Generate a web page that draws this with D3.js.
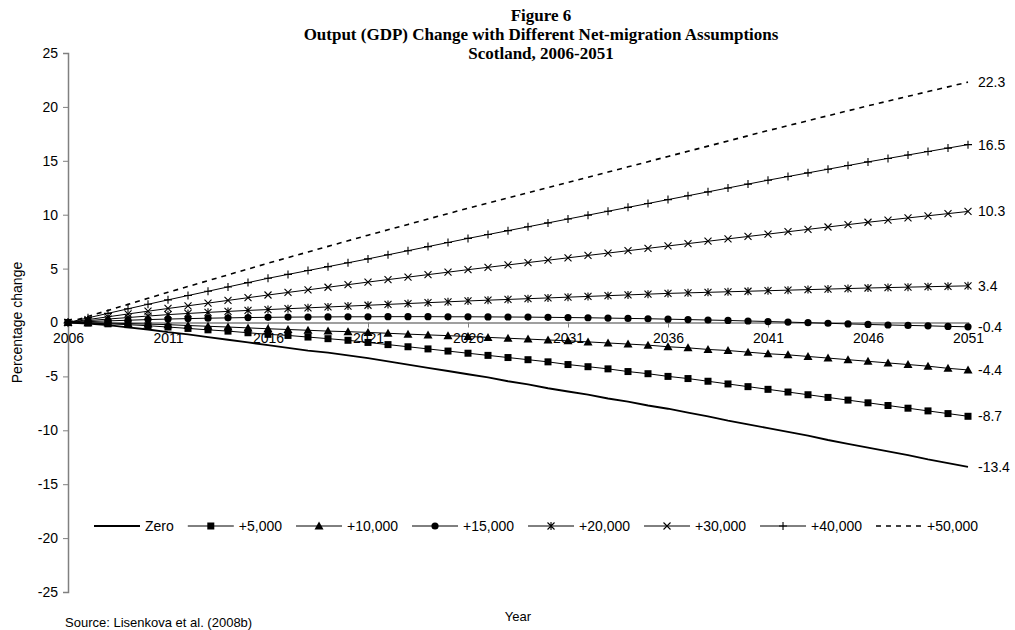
<!DOCTYPE html>
<html>
<head>
<meta charset="utf-8">
<script src="https://cdn.jsdelivr.net/npm/d3@7"></script>
<style>
  html, body { margin: 0; padding: 0; background: #fff; }
  svg { display: block; }
  text { font-family: Arial, "Liberation Sans", sans-serif; fill: #000; }
  .title { font-family: "Times New Roman", "Liberation Serif", serif; font-weight: bold; font-size: 17px; }
</style>
</head>
<body>
<svg id="chart" width="1015" height="630"></svg>
<script>
// Years 2006-2051
const years = d3.range(2006, 2052);

// Percentage change in output (GDP) under each net-migration assumption
const zero = [0, -0.1, -0.25, -0.45, -0.65, -0.9, -1.1, -1.35, -1.6, -1.85, -2.1, -2.35, -2.6, -2.8, -3.05, -3.3,
  -3.6, -3.9, -4.2, -4.5, -4.8, -5.1, -5.45, -5.75, -6.1, -6.4, -6.7, -7.05, -7.35, -7.7, -8.0,
  -8.35, -8.7, -9.1, -9.45, -9.8, -10.15, -10.5, -10.9, -11.25, -11.6, -11.95, -12.3, -12.7, -13.05, -13.4];
const plus5000 = [0, -0.05, -0.12, -0.2, -0.3, -0.42, -0.55, -0.68, -0.8, -0.95, -1.1, -1.2, -1.35, -1.5, -1.65, -1.85,
  -2.05, -2.25, -2.45, -2.65, -2.85, -3.05, -3.25, -3.45, -3.65, -3.9, -4.1, -4.3, -4.55, -4.75, -5.0,
  -5.2, -5.45, -5.7, -5.95, -6.2, -6.45, -6.7, -6.95, -7.2, -7.45, -7.7, -7.95, -8.2, -8.45, -8.7];
const plus10000 = [0, -0.02, -0.05, -0.1, -0.15, -0.2, -0.28, -0.35, -0.42, -0.5, -0.58, -0.65, -0.72, -0.8, -0.85, -0.92,
  -1.0, -1.08, -1.15, -1.22, -1.3, -1.38, -1.46, -1.54, -1.62, -1.7, -1.8, -1.9, -2.0, -2.1, -2.25,
  -2.35, -2.5, -2.6, -2.75, -2.9, -3.0, -3.15, -3.3, -3.45, -3.6, -3.75, -3.9, -4.05, -4.25, -4.4];
const plus15000 = [0, 0.08, 0.15, 0.21, 0.27, 0.32, 0.36, 0.4, 0.43, 0.46, 0.48, 0.5, 0.51, 0.52, 0.53, 0.53,
  0.54, 0.54, 0.54, 0.53, 0.53, 0.52, 0.51, 0.5, 0.48, 0.46, 0.44, 0.41, 0.38, 0.35, 0.31,
  0.27, 0.23, 0.19, 0.14, 0.09, 0.04, -0.02, -0.07, -0.13, -0.18, -0.23, -0.27, -0.31, -0.36, -0.4];
const plus20000 = [0, 0.17, 0.32, 0.46, 0.6, 0.73, 0.84, 0.94, 1.03, 1.12, 1.2, 1.28, 1.36, 1.44, 1.52, 1.6,
  1.68, 1.76, 1.84, 1.92, 2.0, 2.07, 2.14, 2.21, 2.28, 2.35, 2.42, 2.49, 2.56, 2.63, 2.7,
  2.75, 2.8, 2.85, 2.9, 2.95, 3.0, 3.05, 3.1, 3.15, 3.2, 3.24, 3.28, 3.32, 3.36, 3.4];
const plus30000 = [0, 0.27, 0.53, 0.79, 1.05, 1.3, 1.55, 1.8, 2.05, 2.3, 2.55, 2.79, 3.03, 3.27, 3.51, 3.75,
  3.98, 4.21, 4.44, 4.67, 4.9, 5.12, 5.34, 5.56, 5.78, 6.0, 6.22, 6.44, 6.66, 6.88, 7.1,
  7.32, 7.54, 7.76, 7.98, 8.2, 8.42, 8.64, 8.86, 9.08, 9.3, 9.5, 9.7, 9.9, 10.1, 10.3];
const plus40000 = [0, 0.43, 0.85, 1.27, 1.69, 2.1, 2.5, 2.9, 3.3, 3.7, 4.1, 4.46, 4.82, 5.18, 5.54, 5.9,
  6.28, 6.66, 7.04, 7.42, 7.8, 8.16, 8.52, 8.88, 9.24, 9.6, 9.96, 10.32, 10.68, 11.04, 11.4,
  11.76, 12.12, 12.48, 12.84, 13.2, 13.54, 13.88, 14.22, 14.56, 14.9, 15.22, 15.54, 15.86, 16.18, 16.5];
const plus50000 = [0, 0.56, 1.12, 1.68, 2.24, 2.8, 3.34, 3.88, 4.42, 4.96, 5.5, 6.02, 6.54, 7.06, 7.58, 8.1,
  8.6, 9.1, 9.6, 10.1, 10.6, 11.08, 11.56, 12.04, 12.52, 13.0, 13.48, 13.96, 14.44, 14.92, 15.4,
  15.88, 16.36, 16.84, 17.32, 17.8, 18.26, 18.72, 19.18, 19.64, 20.1, 20.54, 20.98, 21.42, 21.86, 22.3];

const seriesNames = ["Zero", "+5,000", "+10,000", "+15,000", "+20,000", "+30,000", "+40,000", "+50,000"];
const seriesValues = [zero, plus5000, plus10000, plus15000, plus20000, plus30000, plus40000, plus50000];
const yTicks = [25, 20, 15, 10, 5, 0, -5, -10, -15, -20, -25];
const xTicks = [2006, 2011, 2016, 2021, 2026, 2031, 2036, 2041, 2046, 2051];
const titleLines = ["Figure 6", "Output (GDP) Change with Different Net-migration Assumptions", "Scotland, 2006-2051"];

// marker kind per series
const markerKinds = ["none", "square", "triangle", "circle", "asterisk", "cross", "plus", "none"];

const svg = d3.select("#chart");
const margin = { left: 68, right: 968, top: 53, bottom: 592 };

const x = d3.scaleLinear().domain([2006, 2051]).range([margin.left, margin.right]);
const y = d3.scaleLinear().domain([-25, 25]).range([margin.bottom, margin.top]);

// Title
svg.append("g").selectAll("text").data(titleLines).join("text")
  .attr("class", "title")
  .attr("x", 541).attr("y", (d, i) => 21 + i * 19)
  .attr("text-anchor", "middle")
  .text(d => d);

// Plain hyphen-minus for negative numbers
const fmt = d => String(d);

// Y axis
const yAxis = svg.append("g")
  .attr("transform", `translate(${margin.left},0)`)
  .call(d3.axisLeft(y).tickValues(yTicks).tickSize(5).tickPadding(5).tickFormat(fmt));
yAxis.select(".domain").attr("stroke", "#808080").attr("stroke-width", 1.5);
yAxis.selectAll(".tick line").attr("stroke", "#808080");
yAxis.selectAll(".tick text").style("font-size", "14px").style("font-family", "Arial, 'Liberation Sans', sans-serif");

// X axis along zero
const xAxis = svg.append("g")
  .attr("transform", `translate(0,${y(0)})`)
  .call(d3.axisBottom(x).tickValues(xTicks).tickSize(5).tickPadding(6).tickFormat(fmt));
xAxis.select(".domain").attr("stroke", "#808080").attr("stroke-width", 1.5);
xAxis.selectAll(".tick line").attr("stroke", "#808080");
xAxis.selectAll(".tick text").style("font-size", "14px").style("font-family", "Arial, 'Liberation Sans', sans-serif");

// Axis titles and source
svg.append("text")
  .attr("transform", `translate(22,${y(0)}) rotate(-90)`)
  .attr("text-anchor", "middle")
  .style("font-size", "14px")
  .text("Percentage change");
svg.append("text")
  .attr("x", 518).attr("y", 621)
  .attr("text-anchor", "middle")
  .style("font-size", "13px")
  .text("Year");
svg.append("text")
  .attr("x", 65).attr("y", 627)
  .style("font-size", "13px")
  .text("Source: Lisenkova et al. (2008b)");

// Marker drawing helper
function drawMarker(g, kind, cx, cy) {
  const s = 3.5;
  if (kind === "square") {
    g.append("rect").attr("x", cx - 3.5).attr("y", cy - 3.5).attr("width", 7).attr("height", 7).attr("fill", "#000");
  } else if (kind === "triangle") {
    g.append("path").attr("d", `M${cx},${cy - 4.5}L${cx + 4.5},${cy + 3.5}L${cx - 4.5},${cy + 3.5}Z`).attr("fill", "#000");
  } else if (kind === "circle") {
    g.append("circle").attr("cx", cx).attr("cy", cy).attr("r", 3.6).attr("fill", "#000");
  } else if (kind === "asterisk") {
    g.append("path").attr("d",
      `M${cx - s},${cy - s}L${cx + s},${cy + s}M${cx - s},${cy + s}L${cx + s},${cy - s}M${cx},${cy - s - 0.5}L${cx},${cy + s + 0.5}`)
      .attr("stroke", "#000").attr("stroke-width", 1.1).attr("fill", "none");
  } else if (kind === "cross") {
    g.append("path").attr("d",
      `M${cx - s},${cy - s}L${cx + s},${cy + s}M${cx - s},${cy + s}L${cx + s},${cy - s}`)
      .attr("stroke", "#000").attr("stroke-width", 1.1).attr("fill", "none");
  } else if (kind === "plus") {
    g.append("path").attr("d",
      `M${cx - 4},${cy}L${cx + 4},${cy}M${cx},${cy - 4}L${cx},${cy + 4}`)
      .attr("stroke", "#000").attr("stroke-width", 1.1).attr("fill", "none");
  }
}

const line = d3.line().x(d => x(d[0])).y(d => y(d[1]));

// Series lines, markers and end-value labels
seriesValues.forEach((vals, i) => {
  const pts = years.map((yr, j) => [yr, vals[j]]);
  const g = svg.append("g");
  const kind = markerKinds[i];
  g.append("path")
    .datum(pts)
    .attr("d", line)
    .attr("fill", "none")
    .attr("stroke", "#000")
    .attr("stroke-width", i === 0 ? 1.8 : (i === 7 ? 1.6 : 1))
    .attr("stroke-dasharray", i === 7 ? "5,5" : null);
  if (kind !== "none") pts.forEach(p => drawMarker(g, kind, x(p[0]), y(p[1])));
  svg.append("text")
    .attr("x", 978).attr("y", y(vals[vals.length - 1]))
    .attr("dy", "0.35em")
    .style("font-size", "14px")
    .text(vals[vals.length - 1].toFixed(1));
});

// Legend: sample line, marker, then label; items packed by label width
const legendY = 526;
const legend = svg.append("g");
let cursor = 94;
seriesNames.forEach((name, i) => {
  const g = legend.append("g");
  g.append("line")
    .attr("x1", cursor).attr("x2", cursor + 46)
    .attr("y1", legendY).attr("y2", legendY)
    .attr("stroke", "#000")
    .attr("stroke-width", i === 0 ? 1.8 : (i === 7 ? 1.6 : 1))
    .attr("stroke-dasharray", i === 7 ? "5,5" : null);
  if (markerKinds[i] !== "none") drawMarker(g, markerKinds[i], cursor + 23, legendY);
  const t = g.append("text")
    .attr("x", cursor + 51).attr("y", legendY).attr("dy", "0.35em")
    .style("font-size", "14px")
    .text(name);
  cursor += 51 + t.node().getComputedTextLength() + 14;
});
</script>
</body>
</html>
